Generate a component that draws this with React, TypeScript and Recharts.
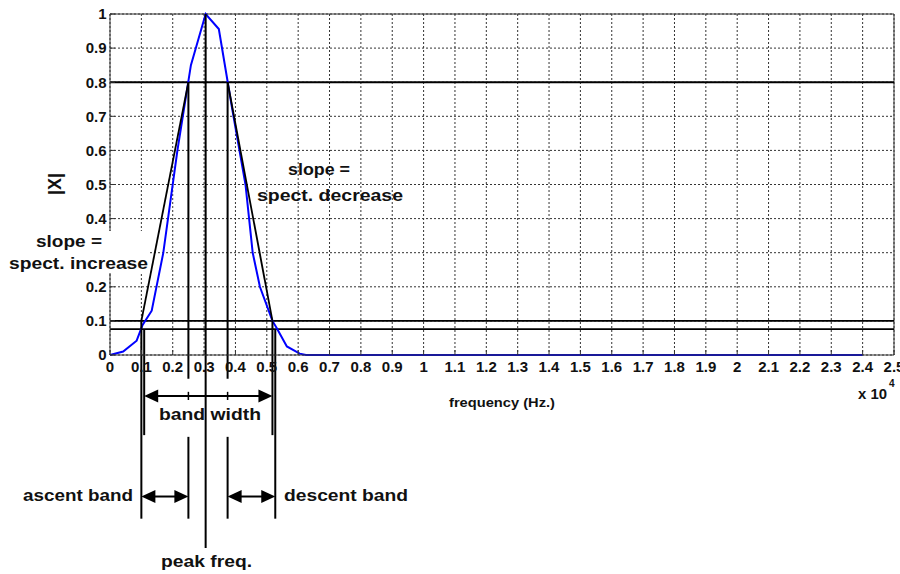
import React from 'react';
import { ComposedChart, Line, XAxis, YAxis, CartesianGrid, ReferenceLine } from 'recharts';

// ---- data (frequency in units of 10^4 Hz, normalized magnitude |X|) ----
const frequency = [0, 0.042, 0.085, 0.104, 0.133, 0.17, 0.215, 0.258, 0.305, 0.347, 0.39, 0.432, 0.455, 0.478, 0.518, 0.531, 0.564, 0.605, 0.625, 2.4];
const magnitude = [0, 0.01, 0.042, 0.088, 0.13, 0.3, 0.6, 0.85, 1.0, 0.956, 0.72, 0.5, 0.3, 0.2, 0.1, 0.08, 0.025, 0.004, 0, 0];

const xTicks = [0, 0.1, 0.2, 0.3, 0.4, 0.5, 0.6, 0.7, 0.8, 0.9, 1, 1.1, 1.2, 1.3, 1.4, 1.5, 1.6, 1.7, 1.8, 1.9, 2, 2.1, 2.2, 2.3, 2.4, 2.5];
const xTickLabels = ['0', '0.1', '0.2', '0.3', '0.4', '0.5', '0.6', '0.7', '0.8', '0.9', '1', '1.1', '1.2', '1.3', '1.4', '1.5', '1.6', '1.7', '1.8', '1.9', '2', '2.1', '2.2', '2.3', '2.4', '2.5'];
const yTicks = [0, 0.1, 0.2, 0.3, 0.4, 0.5, 0.6, 0.7, 0.8, 0.9, 1];
const yTickLabels = ['0', '0.1', '0.2', '0.3', '0.4', '0.5', '0.6', '0.7', '0.8', '0.9', '1'];

// descriptor values
const peakFrequency = 0.305;
const ascentBand = [0.1, 0.25];
const descentBand = [0.375, 0.527];
const bandWidth = [0.109, 0.518];
const thresholds = [0.8, 0.1, 0.076];
const slopeUp = [[0.1, 0.1], [0.25, 0.8]];
const slopeDown = [[0.375, 0.8], [0.518, 0.1]];

// layout levels below the axis (in y-axis units)
const LV = { tickTop: -0.07, bandArrow: -0.12, resume: -0.24, bandEnd: -0.235, bandsArrow: -0.415, bottom: -0.48, peakBottom: -0.566 };

const rows = frequency.map((f, i) => ({ f, m: magnitude[i] }));

const FONT = "'Liberation Sans', Arial, sans-serif";
const tickStyle = { fill: '#111', fontSize: 15, fontWeight: 700, fontFamily: FONT };

const DoubleArrow = (props: any) => {
  const { x1, y1, x2 } = props;
  const left = Math.min(x1, x2);
  const right = Math.max(x1, x2);
  const y = y1;
  const L = 14;
  const H = 6.5;
  return (
    <g>
      <line x1={left + L - 1} y1={y} x2={right - L + 1} y2={y} stroke="#000" strokeWidth={2} />
      <polygon points={`${left},${y} ${left + L},${y - H} ${left + L},${y + H}`} fill="#000" />
      <polygon points={`${right},${y} ${right - L},${y - H} ${right - L},${y + H}`} fill="#000" />
    </g>
  );
};

const seg = (x1: number, y1: number, x2: number, y2: number, w = 2, key?: string) => (
  <ReferenceLine
    key={key ?? `${x1}-${y1}-${x2}-${y2}`}
    segment={[{ x: x1, y: y1 }, { x: x2, y: y2 }]}
    stroke="#000"
    strokeWidth={w}
    ifOverflow="visible"
  />
);

const T = (p: { x: number; y: number; w: number; s?: number; children: string }) => (
  <text
    x={p.x}
    y={p.y}
    fontSize={p.s ?? 17}
    fontWeight={700}
    fontFamily={FONT}
    fill="#111"
    textLength={p.w}
    lengthAdjust="spacingAndGlyphs"
  >
    {p.children}
  </text>
);

export default function App() {
  return (
    <div style={{ position: 'absolute', left: 0, top: 0, width: 900, height: 574, background: '#fff' }}>
      <ComposedChart width={900} height={574} data={rows} margin={{ top: 14, right: 6, left: 0, bottom: 0 }}>
        <CartesianGrid stroke="#333" strokeDasharray="2 2" strokeWidth={1} />
        <XAxis
          dataKey="f"
          type="number"
          domain={[0, 2.5]}
          ticks={xTicks}
          interval={0}
          tickFormatter={(_v: any, i: number) => xTickLabels[i]}
          height={219}
          tick={tickStyle}
          tickSize={-5}
          tickMargin={11}
          axisLine={{ stroke: '#333' }}
          tickLine={{ stroke: '#333' }}
        />
        <YAxis
          type="number"
          domain={[0, 1]}
          ticks={yTicks}
          interval={0}
          tickFormatter={(_v: any, i: number) => yTickLabels[i]}
          width={110}
          tick={tickStyle}
          tickSize={-5}
          tickMargin={8.5}
          axisLine={{ stroke: '#333' }}
          tickLine={{ stroke: '#333' }}
        />
        <ReferenceLine y={1} stroke="#333" strokeWidth={1} />
        <ReferenceLine x={2.5} stroke="#333" strokeWidth={1} />
        {thresholds.map((t) => (
          <ReferenceLine key={`th${t}`} y={t} stroke="#000" strokeWidth={t === 0.8 ? 2 : 1.6} />
        ))}
        <Line
          dataKey="m"
          type="linear"
          stroke="#0000ff"
          strokeWidth={2}
          dot={false}
          isAnimationActive={false}
        />
        {seg(slopeUp[0][0], slopeUp[0][1], slopeUp[1][0], slopeUp[1][1], 1.8, 'su')}
        {seg(slopeDown[0][0], slopeDown[0][1], slopeDown[1][0], slopeDown[1][1], 1.8, 'sd')}
        {seg(peakFrequency, 1, peakFrequency, LV.peakBottom, 2, 'pk')}
        {seg(ascentBand[1], thresholds[0], ascentBand[1], LV.tickTop, 2, 'a1')}
        {seg(ascentBand[1], LV.resume, ascentBand[1], LV.bottom, 2, 'a2')}
        {seg(ascentBand[1], LV.bandArrow + 0.012, ascentBand[1], LV.bandArrow - 0.012, 1.5, 'a3')}
        {seg(descentBand[0], thresholds[0], descentBand[0], LV.tickTop, 2, 'd1')}
        {seg(descentBand[0], LV.resume, descentBand[0], LV.bottom, 2, 'd2')}
        {seg(descentBand[0], LV.bandArrow + 0.012, descentBand[0], LV.bandArrow - 0.012, 1.5, 'd3')}
        {seg(ascentBand[0], thresholds[1], ascentBand[0], LV.bottom, 2, 'l1')}
        {seg(bandWidth[0], thresholds[2], bandWidth[0], LV.bandEnd, 2, 'l2')}
        {seg(bandWidth[1], thresholds[1], bandWidth[1], LV.bandEnd, 2, 'r1')}
        {seg(descentBand[1], thresholds[2], descentBand[1], LV.bottom, 2, 'r2')}
        <ReferenceLine
          segment={[{ x: bandWidth[0], y: LV.bandArrow }, { x: bandWidth[1], y: LV.bandArrow }]}
          ifOverflow="visible"
          shape={DoubleArrow}
        />
        <ReferenceLine
          segment={[{ x: ascentBand[0], y: LV.bandsArrow }, { x: ascentBand[1], y: LV.bandsArrow }]}
          ifOverflow="visible"
          shape={DoubleArrow}
        />
        <ReferenceLine
          segment={[{ x: descentBand[0], y: LV.bandsArrow }, { x: descentBand[1], y: LV.bandsArrow }]}
          ifOverflow="visible"
          shape={DoubleArrow}
        />
      </ComposedChart>
      <svg
        width={900}
        height={574}
        style={{ position: 'absolute', left: 0, top: 0, pointerEvents: 'none' }}
      >
        <rect x={8} y={231} width={141} height={42} fill="#fff" />
        <T x={36} y={247} w={66}>slope =</T>
        <T x={9} y={268.5} w={139}>spect. increase</T>
        <T x={288} y={175} w={62}>slope =</T>
        <T x={257} y={201} w={146}>spect. decrease</T>
        <T x={159} y={420} w={102}>band width</T>
        <T x={23} y={501} w={110}>ascent band</T>
        <T x={284} y={501} w={124}>descent band</T>
        <T x={161} y={567} w={91}>peak freq.</T>
        <T x={449} y={407} w={106} s={13.5}>frequency (Hz.)</T>
        <T x={858} y={398.5} w={29} s={14}>x 10</T>
        <text x={889} y={387} fontSize={10} fontWeight={700} fontFamily={FONT} fill="#111">4</text>
        <text
          x={61}
          y={184}
          fontSize={18}
          fontWeight={700}
          fontFamily={FONT}
          fill="#111"
          textAnchor="middle"
          transform="rotate(-90, 61, 184)"
        >
          |X|
        </text>
      </svg>
    </div>
  );
}
